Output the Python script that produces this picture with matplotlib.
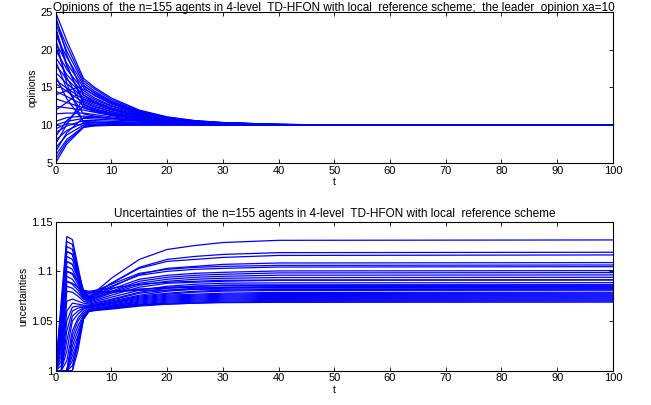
import matplotlib
matplotlib.use('Agg')
import matplotlib.pyplot as plt

plt.rcParams['font.family'] = ['Liberation Sans', 'DejaVu Sans']

# sample times and opinion trajectories
t_op = [0, 2, 5, 7, 10, 15, 20, 25, 30, 40, 50, 100]
opinions = [
    [25.0, 21.2, 16.2, 15.0, 13.6, 12.0, 11.10, 10.60, 10.35, 10.10, 10.03, 10],
    [24.0, 20.5, 15.9, 14.8, 13.4, 11.9, 11.05, 10.58, 10.33, 10.10, 10.03, 10],
    [23.5, 19.8, 15.6, 14.5, 13.2, 11.8, 11.00, 10.55, 10.32, 10.10, 10.03, 10],
    [22.0, 19.0, 15.3, 14.2, 13.0, 11.7, 10.95, 10.53, 10.30, 10.09, 10.03, 10],
    [21.0, 18.2, 15.0, 13.9, 12.8, 11.6, 10.90, 10.50, 10.28, 10.08, 10.02, 10],
    [20.0, 17.4, 14.6, 13.6, 12.6, 11.5, 10.85, 10.48, 10.27, 10.08, 10.02, 10],
    [19.0, 16.7, 14.3, 13.4, 12.5, 11.4, 10.80, 10.45, 10.25, 10.08, 10.02, 10],
    [18.0, 16.1, 14.0, 13.2, 12.3, 11.3, 10.75, 10.42, 10.24, 10.07, 10.02, 10],
    [17.0, 15.5, 13.7, 13.0, 12.2, 11.25, 10.70, 10.40, 10.22, 10.07, 10.02, 10],
    [16.0, 14.9, 13.4, 12.7, 12.0, 11.15, 10.65, 10.37, 10.20, 10.06, 10.02, 10],
    [15.5, 14.5, 13.0, 12.4, 11.8, 11.05, 10.60, 10.34, 10.19, 10.06, 10.02, 10],
    [14.5, 13.8, 12.7, 12.1, 11.6, 10.95, 10.55, 10.30, 10.17, 10.05, 10.01, 10],
    [13.5, 13.0, 12.3, 11.9, 11.4, 10.85, 10.50, 10.28, 10.15, 10.05, 10.01, 10],
    [12.5, 12.3, 12.0, 11.7, 11.3, 10.80, 10.45, 10.25, 10.14, 10.04, 10.01, 10],
    [11.5, 11.6, 11.6, 11.4, 11.1, 10.70, 10.40, 10.22, 10.12, 10.04, 10.01, 10],
    [10.5, 11.0, 11.2, 11.1, 10.9, 10.60, 10.35, 10.19, 10.10, 10.03, 10.01, 10],
    [10.0, 10.5, 10.9, 10.8, 10.7, 10.50, 10.30, 10.16, 10.09, 10.03, 10.01, 10],
    [9.0, 9.9, 10.6, 10.6, 10.5, 10.40, 10.22, 10.13, 10.07, 10.02, 10.00, 10],
    [8.0, 9.3, 10.3, 10.4, 10.35, 10.30, 10.17, 10.10, 10.06, 10.02, 10.00, 10],
    [7.0, 8.7, 10.0, 10.15, 10.2, 10.20, 10.12, 10.07, 10.04, 10.01, 10.00, 10],
    [6.0, 8.1, 9.8, 10.0, 10.05, 10.08, 10.06, 10.04, 10.02, 10.01, 10.00, 10],
    [5.0, 7.5, 9.7, 9.9, 9.97, 10.00, 10.01, 10.01, 10.00, 10.00, 10.00, 10],
    [5.5, 7.8, 9.75, 9.95, 10.0, 10.02, 10.02, 10.01, 10.00, 10.00, 10.00, 10],
    [24.5, 19.3, 14.0, 13.0, 12.2, 11.2, 10.70, 10.40, 10.22, 10.07, 10.02, 10],
    [22.5, 17.8, 13.2, 12.5, 11.8, 11.0, 10.60, 10.33, 10.18, 10.05, 10.01, 10],
    [20.5, 16.3, 12.3, 11.8, 11.3, 10.8, 10.45, 10.25, 10.14, 10.04, 10.01, 10],
    [18.5, 14.8, 11.5, 11.2, 10.9, 10.6, 10.35, 10.19, 10.10, 10.03, 10.01, 10],
    [6.5, 9.0, 11.0, 11.0, 10.9, 10.6, 10.35, 10.19, 10.10, 10.03, 10.01, 10],
    [8.5, 10.6, 12.5, 12.0, 11.5, 10.9, 10.50, 10.28, 10.15, 10.05, 10.01, 10],
    [7.5, 10.1, 13.5, 12.9, 12.1, 11.2, 10.70, 10.40, 10.22, 10.07, 10.02, 10],
    [12.0, 13.0, 14.8, 14.0, 12.9, 11.6, 10.90, 10.50, 10.28, 10.08, 10.02, 10],
    [16.5, 13.5, 10.5, 10.4, 10.3, 10.2, 10.12, 10.07, 10.04, 10.01, 10.00, 10],
    [21.5, 15.5, 10.2, 10.3, 10.3, 10.2, 10.12, 10.07, 10.04, 10.01, 10.00, 10],
    [9.5, 10.2, 10.0, 10.05, 10.1, 10.1, 10.06, 10.04, 10.02, 10.01, 10.00, 10],
    [14.0, 14.6, 15.2, 14.3, 13.1, 11.7, 10.92, 10.52, 10.29, 10.09, 10.02, 10],
    [23.0, 18.0, 12.8, 12.2, 11.6, 10.9, 10.52, 10.29, 10.16, 10.05, 10.01, 10],
]

# sample times and uncertainty trajectories
t_un = [0, 1, 2, 3, 4, 5, 6, 10, 15, 20, 25, 30, 40, 100]
uncertainties = [
    [1, 1.070, 1.135, 1.132, 1.105, 1.078, 1.074, 1.093, 1.112, 1.122, 1.126, 1.129, 1.1312, 1.1316],
    [1, 1.065, 1.130, 1.127, 1.102, 1.077, 1.073, 1.088, 1.104, 1.112, 1.115, 1.117, 1.1188, 1.1192],
    [1, 1.060, 1.125, 1.122, 1.100, 1.076, 1.074, 1.088, 1.103, 1.110, 1.112, 1.114, 1.1160, 1.1165],
    [1, 1.055, 1.120, 1.117, 1.097, 1.075, 1.072, 1.084, 1.097, 1.103, 1.105, 1.107, 1.1084, 1.1088],
    [1, 1.050, 1.115, 1.112, 1.096, 1.078, 1.078, 1.087, 1.098, 1.102, 1.104, 1.105, 1.1060, 1.1064],
    [1, 1.045, 1.110, 1.107, 1.093, 1.077, 1.075, 1.085, 1.096, 1.100, 1.102, 1.103, 1.1043, 1.1047],
    [1, 1.040, 1.105, 1.102, 1.090, 1.076, 1.073, 1.082, 1.092, 1.096, 1.098, 1.099, 1.1004, 1.1007],
    [1, 1.035, 1.100, 1.097, 1.087, 1.075, 1.072, 1.080, 1.090, 1.094, 1.096, 1.097, 1.0984, 1.0987],
    [1, 1.030, 1.095, 1.092, 1.084, 1.074, 1.071, 1.079, 1.088, 1.092, 1.094, 1.095, 1.0961, 1.0964],
    [1, 1.025, 1.090, 1.087, 1.081, 1.073, 1.070, 1.078, 1.086, 1.090, 1.092, 1.093, 1.0937, 1.0940],
    [1, 1.020, 1.085, 1.083, 1.078, 1.072, 1.069, 1.076, 1.084, 1.088, 1.089, 1.090, 1.0910, 1.0913],
    [1, 1.015, 1.080, 1.079, 1.075, 1.070, 1.068, 1.074, 1.081, 1.085, 1.087, 1.088, 1.0884, 1.0886],
    [1, 1.010, 1.070, 1.072, 1.070, 1.068, 1.067, 1.072, 1.079, 1.083, 1.085, 1.086, 1.0864, 1.0866],
    [1, 1.005, 1.060, 1.068, 1.067, 1.066, 1.066, 1.071, 1.078, 1.081, 1.083, 1.084, 1.0844, 1.0846],
    [1, 1.000, 1.050, 1.064, 1.065, 1.065, 1.065, 1.070, 1.076, 1.080, 1.082, 1.083, 1.0838, 1.0840],
    [1, 1.000, 1.040, 1.060, 1.063, 1.064, 1.065, 1.069, 1.075, 1.078, 1.080, 1.081, 1.0818, 1.0820],
    [1, 1.000, 1.030, 1.055, 1.060, 1.063, 1.064, 1.068, 1.074, 1.077, 1.079, 1.080, 1.0808, 1.0810],
    [1, 1.000, 1.020, 1.050, 1.057, 1.062, 1.064, 1.068, 1.073, 1.076, 1.077, 1.078, 1.0788, 1.0790],
    [1, 1.000, 1.010, 1.040, 1.053, 1.060, 1.063, 1.067, 1.072, 1.075, 1.076, 1.077, 1.0778, 1.0780],
    [1, 1.000, 1.000, 1.035, 1.050, 1.058, 1.062, 1.066, 1.071, 1.074, 1.075, 1.076, 1.0768, 1.0770],
    [1, 1.000, 1.000, 1.030, 1.045, 1.056, 1.061, 1.065, 1.070, 1.073, 1.074, 1.075, 1.0758, 1.0760],
    [1, 1.000, 1.000, 1.025, 1.040, 1.055, 1.061, 1.065, 1.069, 1.072, 1.073, 1.074, 1.0748, 1.0750],
    [1, 1.000, 1.000, 1.020, 1.035, 1.054, 1.061, 1.064, 1.068, 1.071, 1.072, 1.073, 1.0738, 1.0740],
    [1, 1.000, 1.000, 1.015, 1.030, 1.054, 1.060, 1.064, 1.067, 1.070, 1.071, 1.072, 1.0728, 1.0730],
    [1, 1.000, 1.000, 1.010, 1.028, 1.053, 1.060, 1.063, 1.066, 1.069, 1.070, 1.071, 1.0718, 1.0720],
    [1, 1.000, 1.000, 1.005, 1.025, 1.052, 1.060, 1.063, 1.066, 1.068, 1.069, 1.070, 1.0708, 1.0710],
    [1, 1.000, 1.000, 1.000, 1.020, 1.052, 1.060, 1.062, 1.065, 1.067, 1.068, 1.069, 1.0698, 1.0700],
    [1, 1.000, 1.000, 1.000, 1.033, 1.054, 1.061, 1.063, 1.066, 1.067, 1.068, 1.0685, 1.0688, 1.0690],
    [1, 1.060, 1.120, 1.117, 1.100, 1.081, 1.080, 1.083, 1.087, 1.089, 1.090, 1.091, 1.0913, 1.0915],
    [1, 1.050, 1.110, 1.107, 1.095, 1.080, 1.079, 1.080, 1.082, 1.083, 1.084, 1.084, 1.0844, 1.0845],
    [1, 1.040, 1.100, 1.098, 1.090, 1.079, 1.078, 1.079, 1.081, 1.081, 1.082, 1.082, 1.0824, 1.0825],
    [1, 1.030, 1.090, 1.088, 1.084, 1.078, 1.076, 1.079, 1.082, 1.084, 1.085, 1.086, 1.0858, 1.0860],
]

op_ticks = [5, 10, 15, 20, 25]
un_ticks = [1, 1.05, 1.1, 1.15]
un_ticklabels = ['1', '1.05', '1.1', '1.15']
t_ticks = list(range(0, 101, 10))

title_op = 'Opinions of  the n=155 agents in 4-level  TD-HFON with local  reference scheme;  the leader  opinion xa=10'
title_un = 'Uncertainties of  the n=155 agents in 4-level  TD-HFON with local  reference scheme'

fig = plt.figure(figsize=(6.51, 4.05), dpi=100)
ax1 = fig.add_axes([0.0855, 0.598, 0.856, 0.372])
ax2 = fig.add_axes([0.0855, 0.0847, 0.856, 0.368])

for row in opinions:
    ax1.plot(t_op, row, color='#0000ff', lw=0.9)
for row in uncertainties:
    ax2.plot(t_un, row, color='#0000ff', lw=0.9)

ax1.set_xlim(0, 100)
ax1.set_ylim(5, 25)
ax1.set_yticks(op_ticks)
ax1.set_ylabel('opinions', fontsize=7.5, labelpad=2)
ax1.set_title(title_op, fontsize=8.5, pad=1)

ax2.set_xlim(0, 100)
ax2.set_ylim(1, 1.15)
ax2.set_yticks(un_ticks)
ax2.set_yticklabels(un_ticklabels)
ax2.set_ylabel('uncertainties', fontsize=7.5, labelpad=2)
ax2.set_title(title_un, fontsize=8.5, pad=3)

for ax in (ax1, ax2):
    ax.set_xticks(t_ticks)
    ax.set_xlabel('t', fontsize=7.5, labelpad=1)
    ax.tick_params(direction='in', top=True, right=True, length=3, width=0.6,
                   labelsize=8, pad=2)
    for s in ax.spines.values():
        s.set_linewidth(0.8)

fig.savefig('out.png', dpi=100)
